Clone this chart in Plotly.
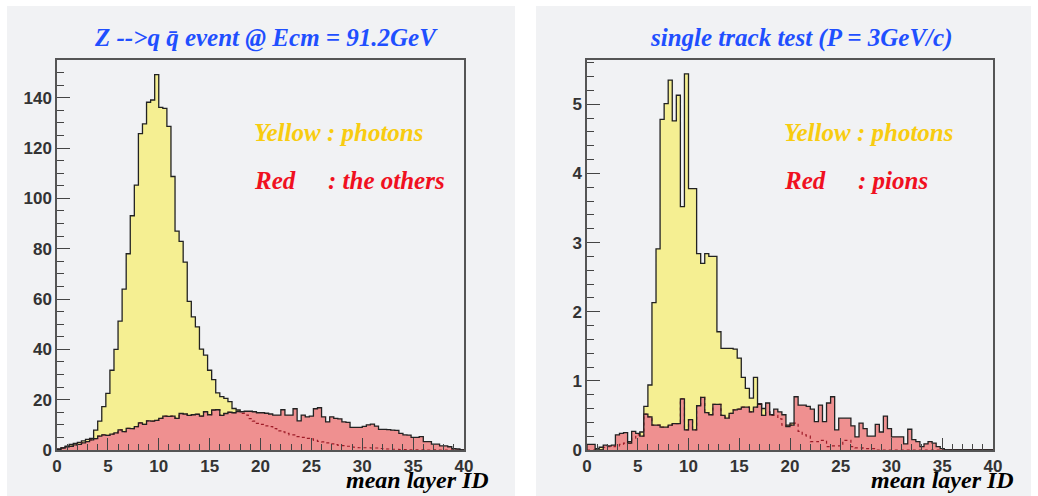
import numpy as np
import plotly.graph_objects as go

# ---------------- data ----------------
bin_edges = [round(0.4 * i, 1) for i in range(101)]  # 100 bins, 0..40

yellow_left = [
    0.3, 0.8, 1.5, 2.2, 2.6, 3.0, 3.6, 4.2, 4.6, 7.9,
    11.5, 17.2, 22.5, 31.7, 40.0, 51.2, 63.9, 78.0, 93.1, 105.3,
    125.7, 129.6, 138.2, 139.1, 149.2, 136.2, 135.8, 128.6, 108.7, 87.0,
    82.9, 74.7, 59.1, 52.9, 48.9, 40.1, 37.7, 31.7, 28.0, 22.7,
    21.2, 20.5, 19.2, 16.5, 15.9, 14.5, 13.9, 12.5, 11.5, 10.6,
    10.2, 9.6, 9.3, 8.5, 7.6, 7.2, 6.6, 6.0, 6.0, 5.3,
    5.0, 4.6, 4.4, 3.8, 3.4, 3.2, 2.8, 2.4, 2.1, 1.8,
    1.7, 1.5, 1.2, 1.0, 0.9, 0.9, 0.9, 0.8, 0.8, 0.6,
    0.5, 0.4, 0.3, 0.3, 0.2, 0.2, 0.1, 0.1, 0.1, 0.1,
    0.1, 0.0, 0.1, 0.0, 0.0, 0.0, 0.0, 0.0, 0.0, 0.0,
]
red_left = [
    0.3, 0.8, 1.3, 1.5, 2.0, 2.2, 2.8, 3.3, 4.0, 4.5,
    5.5, 6.0, 5.8, 6.3, 6.8, 8.0, 7.3, 8.6, 8.5, 9.3,
    10.8, 10.2, 11.6, 11.5, 11.8, 12.6, 13.5, 13.4, 13.5, 12.6,
    14.5, 14.3, 13.8, 14.0, 14.2, 13.5, 15.2, 14.0, 15.9, 16.0,
    13.8, 14.5, 15.0, 14.8, 15.3, 15.2, 15.4, 15.4, 15.2, 14.8,
    14.8, 14.6, 14.3, 13.9, 13.9, 16.0, 13.9, 13.9, 16.4, 11.6,
    13.9, 13.2, 13.5, 16.4, 16.8, 13.2, 11.2, 13.2, 12.6, 12.4,
    11.2, 11.0, 9.0, 9.0, 9.0, 9.4, 10.0, 10.3, 9.5, 8.2,
    8.2, 8.1, 7.9, 7.8, 6.6, 6.0, 5.9, 5.0, 5.0, 5.3,
    3.3, 3.3, 2.3, 2.3, 1.6, 1.6, 1.3, 0.5, 0.4, 0.0,
]
yellow_right = [
    0.0, 0.0, 0.02, 0.04, 0.04, 0.05, 0.05, 0.06, 0.08, 0.10,
    0.12, 0.17, 0.22, 0.26, 0.63, 0.94, 2.13, 2.91, 4.78, 5.01,
    5.35, 4.76, 5.13, 3.52, 5.44, 3.78, 3.78, 2.84, 2.70, 2.84,
    2.80, 2.80, 1.71, 1.47, 1.47, 1.47, 1.46, 1.33, 1.05, 0.89,
    0.75, 1.05, 0.67, 0.60, 0.55, 0.50, 0.50, 0.45, 0.36, 0.36,
    0.39, 0.39, 0.27, 0.22, 0.20, 0.12, 0.12, 0.14, 0.14, 0.05,
    0.06, 0.06, 0.06, 0.14, 0.14, 0.05, 0.03, 0.03, 0.02, 0.02,
    0.02, 0.0, 0.0, 0.0, 0.0, 0.0, 0.0, 0.0, 0.0, 0.0,
    0.0, 0.0, 0.0, 0.0, 0.0, 0.0, 0.0, 0.0, 0.0, 0.0,
    0.0, 0.0, 0.0, 0.0, 0.0, 0.0, 0.0, 0.0, 0.0, 0.0,
]
red_right = [
    0.08, 0.08, 0.0, 0.0, 0.07, 0.06, 0.07, 0.22, 0.24, 0.25,
    0.10, 0.27, 0.24, 0.20, 0.52, 0.48, 0.36, 0.36, 0.33, 0.33,
    0.36, 0.38, 0.38, 0.74, 0.29, 0.44, 0.29, 0.64, 0.76, 0.54,
    0.51, 0.66, 0.66, 0.50, 0.46, 0.53, 0.58, 0.59, 0.62, 0.62,
    0.55, 0.62, 0.66, 0.50, 0.68, 0.51, 0.59, 0.55, 0.51, 0.34,
    0.36, 0.77, 0.65, 0.65, 0.63, 0.59, 0.41, 0.65, 0.41, 0.68,
    0.77, 0.29, 0.46, 0.46, 0.46, 0.35, 0.19, 0.39, 0.31, 0.20,
    0.20, 0.37, 0.26, 0.49, 0.31, 0.19, 0.19, 0.19, 0.09, 0.30,
    0.15, 0.12, 0.05, 0.09, 0.12, 0.10, 0.05, 0.02, 0.0, 0.0,
    0.0, 0.0, 0.0, 0.0, 0.0, 0.0, 0.0, 0.0, 0.0, 0.0,
]

titles = ["Z -->q q\u0304 event @ Ecm = 91.2GeV", "single track test (P = 3GeV/c)"]
red_labels = [": the others", ": pions"]
x_title = "mean layer ID"

# ---------------- style ----------------
W, H = 1038, 496
PANEL = "#f1f2f4"
YELLOW_FILL = "#f5ef92"
RED_FILL = "#ef9090"
OUTLINE = "#222222"
AXIS = "#555555"
SERIF = "Liberation Serif"
SANS = "Liberation Sans"


def step(vals):
    x = [bin_edges[0]] + bin_edges[:-1] + [bin_edges[-1], bin_edges[-1]]
    y = [0] + list(vals) + [vals[-1], 0]
    return x, y


fig = go.Figure()

panels = [
    dict(yel=yellow_left, red=red_left, xa="x", ya="y"),
    dict(yel=yellow_right, red=red_right, xa="x2", ya="y2"),
]
for p in panels:
    xy, yy = step(p["yel"])
    xr, yr = step(p["red"])
    clip = list(np.minimum(np.array(p["yel"]), np.array(p["red"])))
    xc, yc = step(clip)
    fig.add_trace(go.Scatter(x=xy, y=yy, mode="lines", line=dict(shape="hv", color=OUTLINE, width=1.3),
                             fill="tozeroy", fillcolor=YELLOW_FILL, xaxis=p["xa"], yaxis=p["ya"],
                             showlegend=False, hoverinfo="skip"))
    fig.add_trace(go.Scatter(x=xr, y=yr, mode="lines", line=dict(shape="hv", color="rgba(0,0,0,0)", width=0),
                             fill="tozeroy", fillcolor=RED_FILL, xaxis=p["xa"], yaxis=p["ya"],
                             showlegend=False, hoverinfo="skip"))
    fig.add_trace(go.Scatter(x=xc, y=yc, mode="lines", line=dict(shape="hv", color="#9e1c28", width=1.2, dash="dot"),
                             xaxis=p["xa"], yaxis=p["ya"], showlegend=False, hoverinfo="skip"))
    fig.add_trace(go.Scatter(x=xr, y=yr, mode="lines", line=dict(shape="hv", color=OUTLINE, width=1.3),
                             xaxis=p["xa"], yaxis=p["ya"], showlegend=False, hoverinfo="skip"))

tickfont = dict(family=SANS, size=17, color="#333333", weight="bold")
common_x = dict(range=[0, 40], dtick=5, tick0=0, ticks="inside", ticklen=12, tickwidth=1.3, tickcolor="#444",
                minor=dict(dtick=1, ticks="inside", ticklen=6, tickwidth=1.1, tickcolor="#444"),
                showline=True, linecolor=AXIS, linewidth=1.5, mirror=True, showgrid=False, zeroline=False,
                tickfont=tickfont, layer="above traces", automargin=False)
common_y = dict(ticks="inside", ticklen=13, tickwidth=1.3, tickcolor="#444",
                showline=True, linecolor=AXIS, linewidth=1.5, mirror=True, showgrid=False, zeroline=False,
                tickfont=tickfont, layer="above traces", automargin=False)

ydom = [46 / H, 436 / H]
fig.update_layout(
    template="none",
    width=W, height=H, autosize=False,
    margin=dict(l=0, r=0, t=0, b=0, pad=0),
    paper_bgcolor="white", plot_bgcolor=PANEL,
    xaxis=dict(domain=[57 / W, 464 / W], anchor="y", **common_x),
    yaxis=dict(domain=ydom, anchor="x", range=[0, 155], dtick=20, tick0=0,
               minor=dict(dtick=5, ticks="inside", ticklen=7, tickwidth=1.1, tickcolor="#444"), **common_y),
    xaxis2=dict(domain=[587 / W, 993 / W], anchor="y2", **common_x),
    yaxis2=dict(domain=ydom, anchor="x2", range=[0, 5.64], dtick=1, tick0=0,
                minor=dict(dtick=0.2, ticks="inside", ticklen=7, tickwidth=1.1, tickcolor="#444"), **common_y),
    shapes=[
        dict(type="rect", xref="paper", yref="paper", x0=7 / W, x1=515 / W, y0=0, y1=1 - 6 / H,
             fillcolor=PANEL, line=dict(width=0), layer="below"),
        dict(type="rect", xref="paper", yref="paper", x0=536 / W, x1=1031 / W, y0=0, y1=1 - 6 / H,
             fillcolor=PANEL, line=dict(width=0), layer="below"),
    ],
)


def ann(text, xpx, ypx, color, xanchor="left", size=25):
    fig.add_annotation(text=text, xref="paper", yref="paper", x=xpx / W, y=1 - ypx / H,
                       xanchor=xanchor, yanchor="middle", showarrow=False, borderpad=0,
                       font=dict(family=SERIF, size=size, color=color, weight="bold", style="italic"))


BLUE = "#1f4fff"
GOLD = "#f8cc10"
RED = "#f01020"
ann(titles[0], 266, 38, BLUE, "center")
ann(titles[1], 801, 38, BLUE, "center")
for x0, xc, lab in [(253, 327, red_labels[0]), (783, 857, red_labels[1])]:
    ann("Yellow : photons", x0, 133, GOLD)
    ann("Red", x0, 180, RED)
    ann(lab, xc, 180, RED)
ann(x_title, 490, 480, "black", "right", size=24)
ann(x_title, 1015, 480, "black", "right", size=24)

fig.write_html("out.html")
